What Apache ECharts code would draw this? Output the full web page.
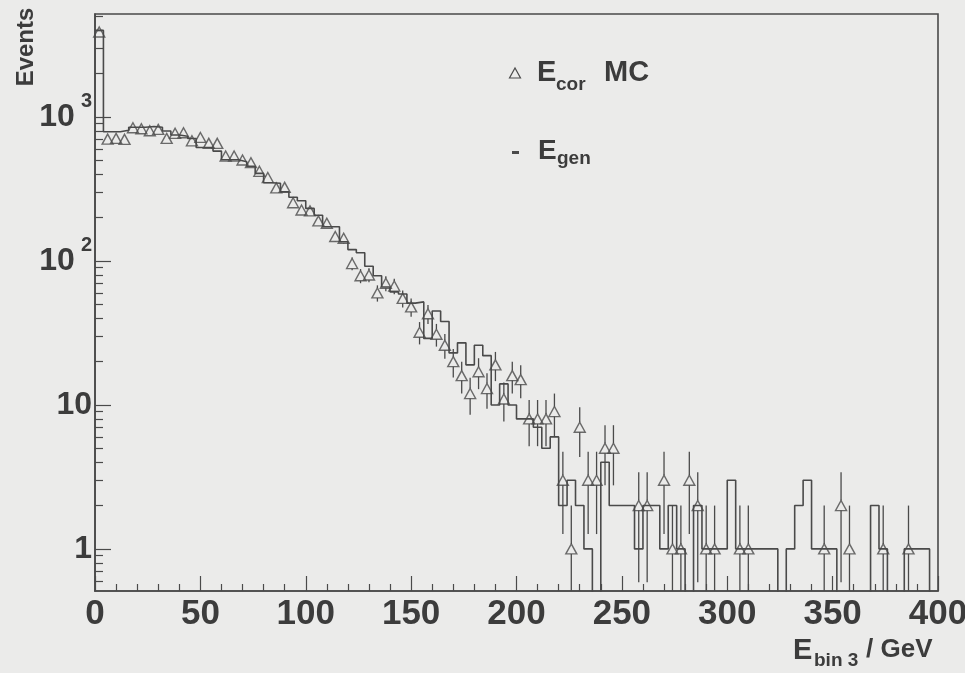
<!DOCTYPE html>
<html>
<head>
<meta charset="utf-8">
<script src="https://cdn.jsdelivr.net/npm/echarts@6/dist/echarts.min.js"></script>
<style>
  html, body { margin: 0; padding: 0; background: #ebebea; }
  #chart { width: 965px; height: 673px; }
</style>
</head>
<body>
<div id="chart"></div>
<script>
// Energy spectrum, 4 GeV bins from 0 to 400 GeV
const binWidth = 4;
const binCount = 100;

// Generated energy (histogram outline), events per bin
const genCounts = [
  4000, 790, 790, 810, 850, 850, 860, 850, 800, 750,
  735, 710, 615, 615, 580, 505, 505, 490, 455, 406,
  350, 347, 303, 277, 262, 232, 208, 173, 173, 136,
  120, 114, 92, 79, 66, 61, 59, 51, 52, 29,
  45, 38, 23, 27, 19, 26, 22, 10, 14, 10,
  8, 8, 7, 5, 6, 2, 3, 2, 1, 0,
  4, 2, 2, 2, 1, 2, 2, 1, 2, 1,
  0, 2, 1, 1, 1, 3, 1, 1, 1, 1,
  1, 0, 1, 2, 3, 1, 1, 1, 0, 0,
  0, 0, 2, 1, 0, 0, 1, 1, 1, 0
];

// Corrected energy, MC (open triangles), events per bin
const corCounts = [
  3900, 703, 711, 700, 843, 829, 803, 821, 711, 771,
  778, 684, 722, 657, 657, 536, 536, 503, 482, 420,
  380, 322, 325, 254, 226, 223, 190, 183, 148, 144,
  96, 79, 80, 60, 70, 67, 55, 48, 32, 43,
  31, 26, 20, 16, 12, 17, 13, 19, 11, 16,
  15, 8, 8, 8, 9, 3, 1, 7, 3, 3,
  5, 5, 0, 0, 2, 2, 0, 3, 1, 1,
  3, 2, 1, 1, 0, 0, 1, 1, 0, 0,
  0, 0, 0, 0, 0, 0, 1, 0, 2, 1,
  0, 0, 0, 1, 0, 0, 1, 0, 0, 0
];

const xTickLabels = [0, 50, 100, 150, 200, 250, 300, 350, 400];
const yTickLabels = [1, 10, 100, 1000];

const yMin = 0.51, yMax = 5200;
const yFloor = 0.05;           // empty bins drop below the axis and get clipped
const ink = '#4a4a4a';
const textInk = '#3c3c3c';
const font = 'Liberation Sans';

// log-axis minor ticks at 2..9 of every decade
const yMinorTicks = [];
for (let k = -1; k <= 3; k++) {
  for (let m = 2; m <= 9; m++) {
    const v = m * Math.pow(10, k);
    if (v > yMin && v < yMax) yMinorTicks.push(v);
  }
}

// histogram outline: one point per left bin edge plus the closing edge
const genLine = [];
for (let i = 0; i < binCount; i++) {
  genLine.push([i * binWidth, genCounts[i] > 0 ? genCounts[i] : yFloor]);
}
genLine.push([binCount * binWidth, genCounts[binCount - 1] > 0 ? genCounts[binCount - 1] : yFloor]);

// markers at bin centres, empty bins are not drawn
const corPoints = [];
for (let i = 0; i < binCount; i++) {
  if (corCounts[i] > 0) corPoints.push([i * binWidth + binWidth / 2, corCounts[i]]);
}

const supDigits = { 100: '2', 1000: '3' };

const chart = echarts.init(document.getElementById('chart'), null, { renderer: 'canvas' });

chart.setOption({
  animation: false,
  backgroundColor: '#ebebea',
  grid: {
    left: 95, right: 27, top: 14, bottom: 82,
    show: true, borderColor: ink, borderWidth: 1.6,
    backgroundColor: 'transparent',
    outerBoundsMode: 'none'
  },
  xAxis: {
    type: 'value',
    min: xTickLabels[0],
    max: xTickLabels[xTickLabels.length - 1],
    interval: 50,
    axisLine: { show: true, lineStyle: { color: ink, width: 1.6 } },
    axisTick: { show: true, inside: true, length: 15, lineStyle: { color: ink, width: 1.2 } },
    minorTick: { show: true, splitNumber: 5, length: 7, lineStyle: { color: ink, width: 1.2 } },
    splitLine: { show: false },
    minorSplitLine: { show: false },
    axisLabel: {
      margin: 6,
      fontSize: 35,
      fontWeight: 'bold',
      fontFamily: font,
      color: textInk,
      customValues: xTickLabels
    }
  },
  yAxis: [
    {
      type: 'log',
      logBase: 10,
      min: yMin,
      max: yMax,
      axisLine: { show: true, lineStyle: { color: ink, width: 1.6 } },
      axisTick: { show: true, inside: true, length: 16, customValues: yTickLabels,
                  lineStyle: { color: ink, width: 1.2 } },
      splitLine: { show: false },
      axisLabel: {
        margin: 3,
        customValues: yTickLabels,
        formatter: function (v) {
          const r = Math.round(v);
          if (r === 1 || r === 10) return '{n|' + r + '}';
          return '{n|10}{e|' + supDigits[r] + '}';
        },
        rich: {
          n: { fontSize: 32, fontWeight: 'bold', fontFamily: font, color: textInk, lineHeight: 52 },
          e: { fontSize: 20, fontWeight: 'bold', fontFamily: font, color: textInk, lineHeight: 22,
               verticalAlign: 'top', padding: [0, 0, 0, 6] }
        }
      }
    },
    {
      type: 'log',
      logBase: 10,
      min: yMin,
      max: yMax,
      position: 'left',
      axisLine: { show: false },
      axisTick: { show: true, inside: true, length: 8, customValues: yMinorTicks,
                  lineStyle: { color: ink, width: 1.2 } },
      axisLabel: { show: false },
      splitLine: { show: false }
    }
  ],
  series: [
    {
      name: 'E_gen',
      type: 'line',
      step: 'end',
      data: genLine,
      symbol: 'none',
      clip: true,
      lineStyle: { color: ink, width: 1.6 },
      z: 2
    },
    {
      name: 'E_cor MC',
      type: 'scatter',
      data: corPoints,
      symbol: 'triangle',
      symbolSize: [11, 10],
      clip: true,
      itemStyle: { color: 'rgba(0,0,0,0)', borderColor: ink, borderWidth: 1.4 },
      z: 3
    },
    {
      // Poisson uncertainties of the corrected MC counts
      name: 'E_cor MC errors',
      type: 'custom',
      data: corPoints,
      clip: true,
      encode: { x: 0, y: 1 },
      renderItem: function (params, api) {
        const x = api.value(0), v = api.value(1);
        const err = Math.sqrt(v);
        const c = api.coord([x, v]);
        const hi = api.coord([x, v + err]);
        const lo = api.coord([x, Math.max(v - err, yFloor)]);
        const gap = 5;
        const children = [];
        if (c[1] - gap > hi[1]) {
          children.push({ type: 'line', shape: { x1: c[0], y1: c[1] - gap, x2: c[0], y2: hi[1] },
                          style: { stroke: ink, lineWidth: 1.3 } });
        }
        if (lo[1] > c[1] + gap) {
          children.push({ type: 'line', shape: { x1: c[0], y1: c[1] + gap, x2: c[0], y2: lo[1] },
                          style: { stroke: ink, lineWidth: 1.3 } });
        }
        return { type: 'group', children: children };
      },
      z: 3
    }
  ],
  graphic: [
    {
      type: 'text', x: 26, y: 47, rotation: Math.PI / 2,
      style: { text: 'Events', fontSize: 24, fontWeight: 'bold', fontFamily: font,
               fill: textInk, align: 'center', verticalAlign: 'middle' }
    },
    // legend
    {
      type: 'polygon',
      shape: { points: [[509.5, 78], [520.5, 78], [515, 68]] },
      style: { fill: 'none', stroke: ink, lineWidth: 1.2 }
    },
    { type: 'text', x: 537, y: 72.7,
      style: { text: 'E', fontSize: 29, fontWeight: 'bold', fontFamily: font, fill: textInk, verticalAlign: 'middle' } },
    { type: 'text', x: 556, y: 85,
      style: { text: 'cor', fontSize: 19, fontWeight: 'bold', fontFamily: font, fill: textInk, verticalAlign: 'middle' } },
    { type: 'text', x: 604, y: 72.7,
      style: { text: 'MC', fontSize: 29, fontWeight: 'bold', fontFamily: font, fill: textInk, verticalAlign: 'middle' } },
    {
      type: 'rect',
      shape: { x: 512, y: 151, width: 7, height: 3 },
      style: { fill: ink }
    },
    { type: 'text', x: 538, y: 151,
      style: { text: 'E', fontSize: 28, fontWeight: 'bold', fontFamily: font, fill: textInk, verticalAlign: 'middle' } },
    { type: 'text', x: 557, y: 158.3,
      style: { text: 'gen', fontSize: 19, fontWeight: 'bold', fontFamily: font, fill: textInk, verticalAlign: 'middle' } },
    // x-axis title
    { type: 'text', x: 793, y: 651,
      style: { text: 'E', fontSize: 29, fontWeight: 'bold', fontFamily: font, fill: textInk, verticalAlign: 'middle' } },
    { type: 'text', x: 814, y: 661,
      style: { text: 'bin 3', fontSize: 19, fontWeight: 'bold', fontFamily: font, fill: textInk, verticalAlign: 'middle' } },
    { type: 'text', x: 866, y: 650,
      style: { text: '/ GeV', fontSize: 26, fontWeight: 'bold', fontFamily: font, fill: textInk,
               verticalAlign: 'middle' } }
  ]
});
</script>
</body>
</html>
